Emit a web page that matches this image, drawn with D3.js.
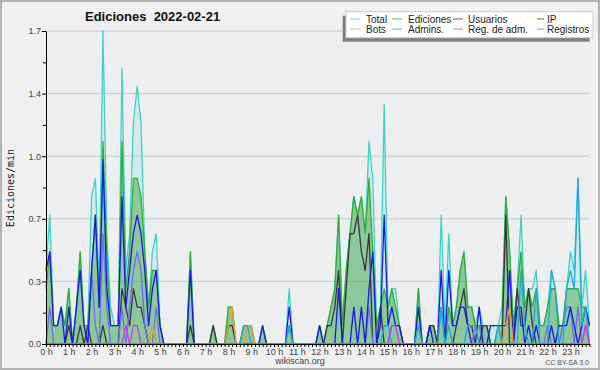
<!DOCTYPE html>
<html>
<head>
<meta charset="utf-8">
<script src="https://cdn.jsdelivr.net/npm/d3@7"></script>
<style>
  body { margin: 0; background: #f0f0f0; }
  svg text { font-family: 'Liberation Sans', Arial, sans-serif; }
</style>
</head>
<body>
<svg id="chart" width="600" height="370"></svg>
<script>
'use strict'

// ------ Data: edits per minute, one value per 10 minutes (6 per hour) ------
const hourLabels = ['0 h', '1 h', '2 h', '3 h', '4 h', '5 h', '6 h', '7 h', '8 h', '9 h', '10 h', '11 h',
  '12 h', '13 h', '14 h', '15 h', '16 h', '17 h', '18 h', '19 h', '20 h', '21 h', '22 h', '23 h']
const yTicks = [0, 0.34, 0.68, 1.02, 1.36, 1.7]
const yMinorTicks = [0.17, 0.51, 0.85, 1.19, 1.53]

const total = [
  0.4, 0.7, 0.1, 0.1, 0.2, 0.1,
  0.3, 0, 0.2, 0.5, 0.1, 0.1,
  0.8, 0.9, 0.3, 1.7, 0.6, 0.2,
  0.1, 0.1, 1.5, 0.4, 0.6, 1.2,
  1.4, 1.2, 0.5, 0.2, 0.5, 0.6,
  0.1, 0, 0, 0, 0, 0,
  0, 0, 0.5, 0, 0, 0,
  0, 0, 0.1, 0, 0, 0,
  0.2, 0.2, 0, 0, 0.1, 0.1,
  0.1, 0, 0, 0.1, 0, 0,
  0, 0, 0, 0, 0.3, 0,
  0, 0, 0, 0, 0, 0,
  0.1, 0, 0.1, 0.2, 0.3, 0.7,
  0.1, 0.4, 0.6, 0.8, 0.7, 0.8,
  0.6, 1.1, 0.9, 0.1, 0.2, 1.3,
  0.2, 0.3, 0.3, 0.1, 0, 0,
  0, 0, 0.3, 0, 0, 0.1,
  0.1, 0, 0.7, 0.1, 0.6, 0.1,
  0.2, 0.4, 0.5, 0.2, 0.2, 0.1,
  0.2, 0.1, 0.1, 0.1, 0.1, 0.1,
  0.2, 0.8, 0.5, 0.1, 0.3, 0.7,
  0.2, 0.3, 0.3, 0.4, 0.1, 0.1,
  0.2, 0.4, 0.3, 0.1, 0.1, 0.3,
  0.5, 0.4, 0.9, 0.2, 0.4, 0.1
]

const ediciones = [
  0.3, 0.5, 0.1, 0.1, 0.2, 0.1,
  0.3, 0, 0.2, 0.5, 0.1, 0.1,
  0.4, 0.7, 0.2, 1.1, 0.5, 0.1,
  0.1, 0.1, 1.1, 0.3, 0.5, 0.9,
  0.9, 0.8, 0.5, 0.2, 0.4, 0.4,
  0.1, 0, 0, 0, 0, 0,
  0, 0, 0.5, 0, 0, 0,
  0, 0, 0.1, 0, 0, 0,
  0.2, 0.2, 0, 0, 0.1, 0.1,
  0.1, 0, 0, 0.1, 0, 0,
  0, 0, 0, 0, 0.1, 0,
  0, 0, 0, 0, 0, 0,
  0.1, 0, 0.1, 0.2, 0.3, 0.7,
  0.1, 0.4, 0.6, 0.8, 0.7, 0.8,
  0.6, 0.9, 0.5, 0.1, 0.2, 0.3,
  0.2, 0.3, 0.2, 0.1, 0, 0,
  0, 0, 0.3, 0, 0, 0.1,
  0.1, 0, 0.2, 0, 0.2, 0.1,
  0.2, 0.4, 0.5, 0.2, 0.2, 0.1,
  0.1, 0.1, 0.1, 0, 0, 0.1,
  0.1, 0.8, 0.5, 0.1, 0.3, 0.5,
  0.2, 0.3, 0.2, 0.3, 0.1, 0.1,
  0.2, 0.3, 0.3, 0.1, 0.1, 0.3,
  0.3, 0.3, 0.3, 0.2, 0.2, 0.1
]

const usuarios = [
  0.4, 0.5, 0.1, 0.1, 0.2, 0,
  0.2, 0, 0.2, 0.4, 0.1, 0,
  0.4, 0.7, 0.2, 1.0, 0.3, 0.1,
  0.1, 0.1, 0.8, 0.2, 0.4, 0.6,
  0.7, 0.6, 0.4, 0.1, 0.3, 0.4,
  0.1, 0, 0, 0, 0, 0,
  0, 0, 0.4, 0, 0, 0,
  0, 0, 0, 0, 0, 0,
  0, 0, 0, 0, 0, 0,
  0, 0, 0, 0.1, 0, 0,
  0, 0, 0, 0, 0.2, 0,
  0, 0, 0, 0, 0, 0,
  0.1, 0, 0, 0, 0, 0.3,
  0, 0, 0, 0.2, 0, 0.2,
  0, 0.3, 0.5, 0, 0.1, 0.7,
  0.1, 0.2, 0.1, 0.1, 0, 0,
  0, 0, 0.2, 0, 0, 0.1,
  0, 0, 0.4, 0, 0.4, 0.1,
  0.1, 0.2, 0.2, 0.1, 0, 0,
  0.2, 0, 0, 0.1, 0.1, 0.1,
  0.1, 0.1, 0.4, 0, 0.2, 0.2,
  0, 0.1, 0, 0.1, 0, 0,
  0, 0.1, 0, 0.1, 0.1, 0.1,
  0.2, 0.1, 0, 0.1, 0.2, 0.1
]

const ip = [
  0, 0, 0, 0, 0, 0,
  0.1, 0, 0, 0.1, 0, 0.1,
  0, 0, 0, 0.1, 0, 0,
  0, 0, 0.3, 0.2, 0.1, 0.3,
  0.2, 0.2, 0.1, 0, 0, 0,
  0, 0, 0, 0, 0, 0,
  0, 0, 0.1, 0, 0, 0,
  0, 0, 0.1, 0, 0, 0,
  0.1, 0.1, 0, 0, 0, 0,
  0, 0, 0, 0, 0, 0,
  0, 0, 0, 0, 0, 0,
  0, 0, 0, 0, 0, 0,
  0, 0, 0.1, 0.1, 0.2, 0.4,
  0, 0.3, 0.6, 0.6, 0.7, 0.5,
  0.4, 0.6, 0, 0, 0.2, 0,
  0, 0, 0, 0, 0, 0,
  0, 0, 0, 0, 0, 0.1,
  0.1, 0, 0, 0, 0, 0,
  0.1, 0.2, 0.3, 0.1, 0.1, 0,
  0, 0.1, 0.1, 0, 0, 0,
  0, 0.7, 0, 0, 0.3, 0.1,
  0.1, 0.3, 0.1, 0, 0, 0,
  0, 0, 0, 0, 0, 0,
  0, 0, 0, 0, 0, 0
]

const bots = [
  0, 0, 0, 0, 0, 0,
  0, 0, 0, 0, 0, 0,
  0, 0, 0, 0, 0, 0,
  0, 0, 0, 0, 0, 0,
  0, 0, 0, 0, 0.1, 0,
  0, 0, 0, 0, 0, 0,
  0, 0, 0, 0, 0, 0,
  0, 0, 0, 0, 0, 0,
  0.1, 0.2, 0, 0, 0, 0.1,
  0.1, 0, 0, 0, 0, 0,
  0, 0, 0, 0, 0, 0,
  0, 0, 0, 0, 0, 0,
  0, 0, 0, 0, 0, 0,
  0, 0, 0, 0, 0, 0,
  0, 0, 0, 0, 0, 0,
  0, 0, 0, 0, 0, 0,
  0, 0, 0, 0, 0, 0,
  0, 0, 0, 0, 0, 0,
  0, 0, 0, 0, 0, 0,
  0, 0, 0, 0, 0, 0,
  0, 0.1, 0.2, 0, 0, 0,
  0, 0, 0, 0, 0, 0,
  0, 0, 0, 0, 0, 0,
  0, 0, 0, 0, 0, 0
]

const admins = [
  0, 0, 0, 0, 0, 0,
  0, 0, 0, 0, 0, 0,
  0, 0, 0, 0, 0, 0,
  0, 0, 0, 0, 0, 0,
  0, 0, 0, 0, 0, 0,
  0, 0, 0, 0, 0, 0,
  0, 0, 0, 0, 0, 0,
  0, 0, 0, 0, 0, 0,
  0, 0, 0, 0, 0.1, 0.1,
  0, 0, 0, 0, 0, 0,
  0, 0, 0, 0, 0.1, 0,
  0, 0, 0, 0, 0, 0,
  0, 0, 0, 0, 0, 0,
  0, 0, 0, 0, 0, 0,
  0, 0, 0, 0, 0, 0.1,
  0.1, 0, 0, 0, 0, 0,
  0, 0, 0.1, 0, 0, 0,
  0, 0, 0.2, 0, 0.1, 0,
  0, 0, 0, 0.1, 0.1, 0.1,
  0, 0, 0, 0, 0, 0.1,
  0, 0, 0, 0, 0, 0.4,
  0.1, 0, 0, 0.3, 0, 0,
  0, 0.4, 0.3, 0, 0, 0.3,
  0.4, 0.3, 0.9, 0.1, 0.2, 0
]

const regAdm = [
  0, 0, 0, 0, 0, 0,
  0, 0, 0, 0, 0, 0,
  0, 0, 0, 0, 0, 0,
  0, 0, 0, 0.1, 0, 0.1,
  0.1, 0, 0, 0, 0, 0,
  0, 0, 0, 0, 0, 0,
  0, 0, 0, 0, 0, 0,
  0, 0, 0, 0, 0, 0,
  0, 0, 0, 0, 0, 0,
  0, 0, 0, 0, 0, 0,
  0, 0, 0, 0, 0, 0,
  0, 0, 0, 0, 0, 0,
  0, 0, 0, 0, 0, 0,
  0, 0, 0, 0, 0, 0,
  0, 0, 0, 0, 0, 0,
  0, 0.1, 0.1, 0, 0, 0,
  0, 0, 0, 0, 0, 0,
  0, 0, 0, 0, 0, 0,
  0, 0, 0, 0, 0, 0,
  0, 0, 0, 0, 0, 0,
  0, 0, 0, 0, 0, 0,
  0, 0, 0, 0, 0, 0,
  0, 0, 0, 0, 0, 0,
  0, 0, 0, 0, 0.1, 0
]

const registros = [
  0, 0.2, 0, 0, 0, 0,
  0, 0, 0, 0, 0, 0,
  0.4, 0.1, 0, 0.6, 0.2, 0,
  0, 0, 0.2, 0, 0.2, 0.4,
  0.5, 0.4, 0.1, 0, 0, 0.2,
  0, 0, 0, 0, 0, 0,
  0, 0, 0, 0, 0, 0,
  0, 0, 0, 0, 0, 0,
  0, 0, 0, 0, 0, 0,
  0, 0, 0, 0, 0, 0,
  0, 0, 0, 0, 0, 0,
  0, 0, 0, 0, 0, 0,
  0, 0, 0, 0, 0, 0,
  0, 0, 0, 0, 0, 0,
  0, 0.2, 0, 0, 0, 0,
  0, 0.1, 0.1, 0.1, 0, 0,
  0, 0, 0, 0, 0, 0,
  0, 0, 0, 0, 0, 0,
  0, 0, 0, 0, 0, 0.1,
  0.1, 0, 0, 0, 0, 0,
  0, 0, 0, 0, 0, 0,
  0, 0, 0, 0, 0, 0,
  0.1, 0, 0, 0, 0.1, 0.2,
  0.2, 0, 0.2, 0, 0.1, 0
]

// ------ Series styles, in legend order ------
var series = [
  { name: 'Total', values: total, color: '#3fd3c6' },
  { name: 'Ediciones', values: ediciones, color: '#33ad33' },
  { name: 'Usuarios', values: usuarios, color: '#1818e8' },
  { name: 'IP', values: ip, color: '#383838' },
  { name: 'Bots', values: bots, color: '#f0a028' },
  { name: 'Admins.', values: admins, color: '#22a8e0' },
  { name: 'Reg. de adm.', values: regAdm, color: '#cc3ee0' },
  { name: 'Registros', values: registros, color: '#6e6ef2' }
]
function byName (n) { return series.find(function (s) { return s.name === n }) }

// ------ Scales ------
var x = d3.scaleLinear().domain([0, total.length - 1]).range([46, 589.4])
var y = d3.scaleLinear().domain([0, 1.7]).range([344, 31])

var svg = d3.select('#chart')

svg.append('rect').attr('x', 1).attr('y', 1).attr('width', 598).attr('height', 368)
  .attr('fill', '#f0f0f0').attr('stroke', '#b2b2b2').attr('stroke-width', 2)

// plot background + horizontal grid
svg.append('rect').attr('x', x(0)).attr('y', y(1.7))
  .attr('width', x(total.length - 1) - x(0)).attr('height', y(0) - y(1.7))
  .attr('fill', '#eceef0')

svg.append('g').selectAll('line').data(yTicks.slice(1)).join('line')
  .attr('x1', x(0)).attr('x2', x(total.length - 1))
  .attr('y1', function (d) { return y(d) }).attr('y2', function (d) { return y(d) })
  .attr('stroke', '#c9c9c9')

// ------ D3: areas and lines ------
var area = d3.area()
  .x(function (d, i) { return x(i) })
  .y0(y(0))
  .y1(function (d) { return y(d) })

var line = d3.line()
  .x(function (d, i) { return x(i) })
  .y(function (d) { return y(d) })

svg.append('path').datum(total).attr('d', area).attr('fill', 'rgba(40, 205, 190, 0.13)')
svg.append('path').datum(ediciones).attr('d', area).attr('fill', 'rgba(55, 160, 55, 0.45)')

var drawOrder = ['Total', 'Ediciones', 'IP', 'Registros', 'Usuarios', 'Bots', 'Admins.', 'Reg. de adm.']
drawOrder.forEach(function (n) {
  var s = byName(n)
  svg.append('path').datum(s.values)
    .attr('d', line)
    .attr('fill', 'none')
    .attr('stroke', s.color)
    .attr('stroke-width', 1.3)
    .attr('stroke-linejoin', 'round')
})

// ------ Axes ------
var yAxis = svg.append('g').attr('transform', 'translate(46,0)')
  .call(d3.axisLeft(y).tickValues(yTicks).tickFormat(d3.format('.1f')).tickSize(4).tickSizeOuter(0).tickPadding(1))
svg.append('g').attr('transform', 'translate(46,0)')
  .call(d3.axisLeft(y).tickValues(yMinorTicks).tickFormat('').tickSize(3))
  .select('.domain').remove()

var xAxis = svg.append('g').attr('transform', 'translate(0,344)')
  .call(d3.axisBottom(x).tickValues(d3.range(total.length)).tickSize(3).tickSizeOuter(0).tickPadding(2)
    .tickFormat(function (i) { return i % 6 === 0 ? hourLabels[i / 6] : '' }))

;[yAxis, xAxis].forEach(function (g) {
  g.selectAll('text').attr('font-size', 9).attr('fill', '#444')
    .attr('font-family', "'Liberation Sans', Arial, sans-serif")
})

// ------ Texts ------
svg.append('text').attr('x', 85).attr('y', 21)
  .attr('font-size', 13).attr('font-weight', 'bold').attr('fill', '#111')
  .style('white-space', 'pre')
  .text('Ediciones  2022-02-21')

svg.append('text').attr('transform', 'translate(14,188) rotate(-90)')
  .attr('text-anchor', 'middle').attr('font-size', 10).attr('fill', '#222')
  .style('font-family', "'DejaVu Sans Mono', monospace")
  .text('Ediciones/min')

svg.append('text').attr('x', 300).attr('y', 364).attr('text-anchor', 'middle')
  .attr('font-size', 9).attr('fill', '#444').text('wikiscan.org')
svg.append('text').attr('x', 589).attr('y', 365).attr('text-anchor', 'end')
  .attr('font-size', 7).attr('fill', '#555').text('CC BY-SA 3.0')

// ------ Legend ------
var legend = svg.append('g')
legend.append('rect').attr('x', 342.7).attr('y', 15.7).attr('width', 247).attr('height', 26).attr('fill', '#7f7f7f')
legend.append('rect').attr('x', 346).attr('y', 11.7).attr('width', 247).attr('height', 26)
  .attr('fill', '#fff').attr('stroke', '#cfcfcf')

var colX = [350, 392, 453, 537]
var colW = [10, 10, 10, 7]
var textX = [366, 408, 468, 547]
series.forEach(function (s, k) {
  var c = k % 4
  var ry = k < 4 ? 19 : 29
  legend.append('line').attr('x1', colX[c]).attr('x2', colX[c] + colW[c])
    .attr('y1', ry).attr('y2', ry)
    .attr('stroke', s.color).attr('stroke-width', 1.2).attr('stroke-opacity', 0.65)
  legend.append('text').attr('x', textX[c]).attr('y', ry + 3.5)
    .attr('font-size', 10).attr('fill', '#222').text(s.name)
})
</script>
</body>
</html>
